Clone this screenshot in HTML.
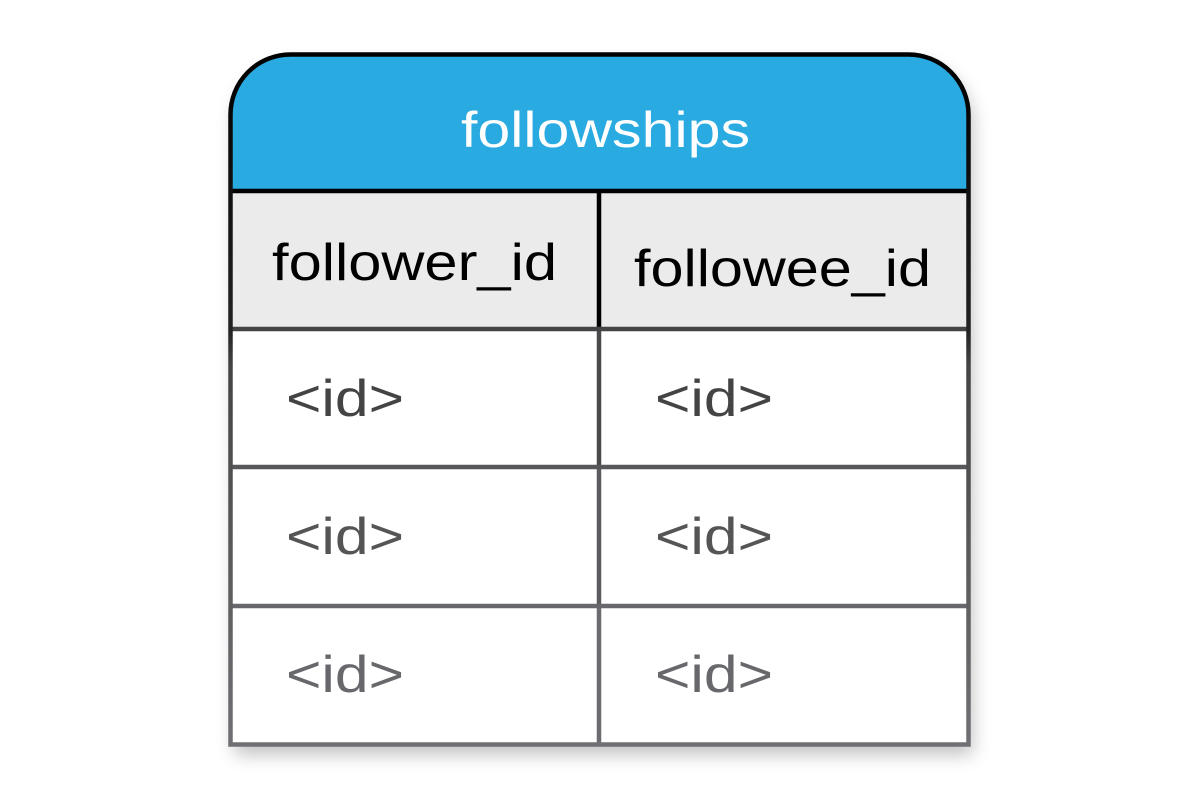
<!DOCTYPE html>
<html><head><style>html,body{margin:0;padding:0;background:#fff;}svg{display:block}</style></head>
<body>
<svg width="1200" height="800" viewBox="0 0 1200 800" xmlns="http://www.w3.org/2000/svg" font-family="Liberation Sans, sans-serif">
<defs>
<filter id="sh" x="-10%" y="-10%" width="125%" height="125%">
<feGaussianBlur in="SourceAlpha" stdDeviation="9"/>
<feOffset dx="4" dy="10"/>
<feComponentTransfer><feFuncA type="linear" slope="0.25"/></feComponentTransfer>
<feMerge><feMergeNode/><feMergeNode in="SourceGraphic"/></feMerge>
</filter>
<linearGradient id="bg" x1="0" y1="0" x2="0" y2="1">
<stop offset="0" stop-color="#000"/><stop offset="0.4" stop-color="#222"/><stop offset="0.45" stop-color="#444"/><stop offset="1" stop-color="#707074"/>
</linearGradient>
</defs>
<g filter="url(#sh)">
<path d="M230.5,744.5 V114.5 A60,60 0 0 1 290.5,54.5 H908.5 A60,60 0 0 1 968.5,114.5 V744.5 Z" fill="#fff"/>
</g>
<path d="M230.5,191 V114.5 A60,60 0 0 1 290.5,54.5 H908.5 A60,60 0 0 1 968.5,114.5 V191 Z" fill="#29aae1"/>
<rect x="230.5" y="191" width="738" height="138" fill="#ebebeb"/>
<line x1="599" y1="191" x2="599" y2="329" stroke="#000" stroke-width="4.5"/>
<line x1="599" y1="329" x2="599" y2="467" stroke="#4a4a4c" stroke-width="4.5"/>
<line x1="599" y1="467" x2="599" y2="606" stroke="#5c5c60" stroke-width="4.5"/>
<line x1="599" y1="606" x2="599" y2="745" stroke="#6c6c70" stroke-width="4.5"/>
<line x1="230" y1="191" x2="969" y2="191" stroke="#000" stroke-width="4.5"/>
<line x1="230" y1="329" x2="969" y2="329" stroke="#444446" stroke-width="4.5"/>
<line x1="230" y1="467" x2="969" y2="467" stroke="#58585c" stroke-width="4.5"/>
<line x1="230" y1="606" x2="969" y2="606" stroke="#68686c" stroke-width="4.5"/>
<path d="M230.5,744.5 V114.5 A60,60 0 0 1 290.5,54.5 H908.5 A60,60 0 0 1 968.5,114.5 V744.5 Z" fill="none" stroke="url(#bg)" stroke-width="4.5"/>
<text x="461" y="147" font-size="50" fill="#fff" textLength="289" lengthAdjust="spacingAndGlyphs">followships</text>
<text x="272" y="280" font-size="52" fill="#000" textLength="285" lengthAdjust="spacingAndGlyphs">follower_id</text>
<text x="634" y="286" font-size="52" fill="#000" textLength="297" lengthAdjust="spacingAndGlyphs">followee_id</text>
<g font-size="52">
<text x="286" y="416" fill="#444" textLength="118" lengthAdjust="spacingAndGlyphs">&lt;id&gt;</text>
<text x="655" y="416" fill="#444" textLength="118" lengthAdjust="spacingAndGlyphs">&lt;id&gt;</text>
<text x="286" y="554" fill="#555" textLength="118" lengthAdjust="spacingAndGlyphs">&lt;id&gt;</text>
<text x="655" y="554" fill="#555" textLength="118" lengthAdjust="spacingAndGlyphs">&lt;id&gt;</text>
<text x="286" y="692" fill="#68686c" textLength="118" lengthAdjust="spacingAndGlyphs">&lt;id&gt;</text>
<text x="655" y="692" fill="#68686c" textLength="118" lengthAdjust="spacingAndGlyphs">&lt;id&gt;</text>
</g>
</svg>
</body></html>
